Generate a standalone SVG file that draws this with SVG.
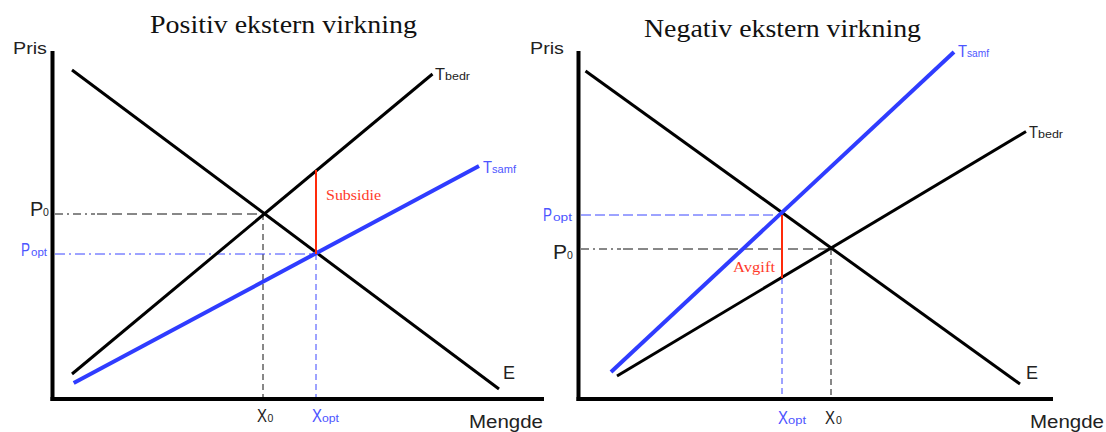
<svg xmlns="http://www.w3.org/2000/svg" width="1106" height="432" viewBox="0 0 1106 432">
<style>
.bg{fill:#fff}
.axis{stroke:#000;stroke-width:4;fill:none;stroke-linecap:square}
.blk{stroke:#000;stroke-width:3;fill:none}
.blu{stroke:#2f3cff;stroke-width:4;fill:none}
.red{stroke:#ff2a0a;stroke-width:2;fill:none}
.dk{stroke:#111;stroke-width:1;fill:none;stroke-dasharray:10,5}
.dkdot{stroke:#111;stroke-width:1;fill:none;stroke-dasharray:8,4,2,4}
.dkv{stroke:#111;stroke-width:1;fill:none;stroke-dasharray:6,4}
.db{stroke:#3a46ff;stroke-width:1;fill:none;stroke-dasharray:10,4}
.dbdot{stroke:#3a46ff;stroke-width:1;fill:none;stroke-dasharray:10,4,2,4}
.dbv{stroke:#3a46ff;stroke-width:1;fill:none;stroke-dasharray:6,4}
.title{font-family:"Liberation Serif","Times New Roman",serif;font-size:25.5px;fill:#111}
.sans{font-family:"Liberation Sans",Arial,sans-serif;fill:#222}
.sub{font-family:"Liberation Sans",Arial,sans-serif;font-size:10.5px}
.bt{fill:#4d55ff}
.rt{font-family:"Liberation Serif","Times New Roman",serif;font-size:14.5px;fill:#ff3a2a}
</style>
<rect class="bg" x="0" y="0" width="1106" height="432"/>

<g id="chart-positive">
  <text class="title" x="150" y="33" textLength="267" lengthAdjust="spacingAndGlyphs">Positiv ekstern virkning</text>
  <g id="axes-left">
    <line class="axis" x1="52.5" y1="53" x2="52.5" y2="399"/>
    <line class="axis" x1="52.5" y1="399" x2="542" y2="399"/>
    <text class="sans" x="13" y="54" font-size="16" textLength="34" lengthAdjust="spacingAndGlyphs">Pris</text>
    <text class="sans" x="469" y="428" font-size="18" textLength="74" lengthAdjust="spacingAndGlyphs">Mengde</text>
  </g>
  <g id="guides-left">
    <line class="dkdot" x1="55" y1="214" x2="95" y2="214"/>
    <line class="dk" x1="97" y1="214" x2="263" y2="214"/>
    <line class="dkv" x1="263" y1="214" x2="263" y2="397"/>
    <line class="dbdot" x1="55" y1="254" x2="316" y2="254"/>
    <line class="dbv" x1="316" y1="254" x2="316" y2="397"/>
  </g>
  <g id="curves-left">
    <line id="E-left" class="blk" x1="72" y1="70" x2="499" y2="389"/>
    <line id="Tbedr-left" class="blk" x1="72" y1="374" x2="432.5" y2="74"/>
    <line id="Tsamf-left" class="blu" x1="73.7" y1="383" x2="479" y2="166"/>
    <line id="subsidie" class="red" x1="316" y1="170" x2="316" y2="254"/>
  </g>
  <g id="labels-left">
    <text class="sans" x="30" y="216" font-size="20">P</text>
    <text class="sub" x="43" y="216" fill="#222">0</text>
    <text class="sans bt" x="21" y="256" font-size="18" textLength="9" lengthAdjust="spacingAndGlyphs">P</text>
    <text class="sub bt" x="31" y="256" textLength="16" lengthAdjust="spacingAndGlyphs">opt</text>
    <text class="sans" x="257" y="422" font-size="18" textLength="10" lengthAdjust="spacingAndGlyphs">X</text>
    <text class="sub" x="267.5" y="422" fill="#222">0</text>
    <text class="sans bt" x="312" y="422" font-size="18" textLength="10" lengthAdjust="spacingAndGlyphs">X</text>
    <text class="sub bt" x="322" y="422" textLength="17" lengthAdjust="spacingAndGlyphs">opt</text>
    <text class="sans" x="503" y="379" font-size="18">E</text>
    <text class="sans" x="435" y="80" font-size="17" textLength="10" lengthAdjust="spacingAndGlyphs">T</text>
    <text class="sub" x="445" y="80" fill="#222" textLength="25" lengthAdjust="spacingAndGlyphs">bedr</text>
    <text class="sans bt" x="483" y="173" font-size="17" textLength="9" lengthAdjust="spacingAndGlyphs">T</text>
    <text class="sub bt" x="492" y="173" textLength="24" lengthAdjust="spacingAndGlyphs">samf</text>
    <text class="rt" x="326" y="200" textLength="55" lengthAdjust="spacingAndGlyphs">Subsidie</text>
  </g>
</g>

<g id="chart-negative">
  <text class="title" x="644" y="37" textLength="277" lengthAdjust="spacingAndGlyphs">Negativ ekstern virkning</text>
  <g id="axes-right">
    <line class="axis" x1="578.5" y1="53" x2="578.5" y2="399"/>
    <line class="axis" x1="578.5" y1="399" x2="1051" y2="399"/>
    <text class="sans" x="530" y="54" font-size="16" textLength="34" lengthAdjust="spacingAndGlyphs">Pris</text>
    <text class="sans" x="1030" y="428" font-size="18" textLength="74" lengthAdjust="spacingAndGlyphs">Mengde</text>
  </g>
  <g id="guides-right">
    <line class="db" x1="581" y1="215" x2="782" y2="215"/>
    <line class="dbv" x1="782" y1="278" x2="782" y2="397"/>
    <line class="dkdot" x1="581" y1="249" x2="621" y2="249"/>
    <line class="dk" x1="623" y1="249" x2="831" y2="249"/>
    <line class="dkv" x1="831" y1="249" x2="831" y2="397"/>
  </g>
  <g id="curves-right">
    <line id="E-right" class="blk" x1="585.5" y1="71" x2="1020" y2="384"/>
    <line id="Tbedr-right" class="blk" x1="617" y1="376" x2="1026" y2="131.5"/>
    <line id="Tsamf-right" class="blu" x1="611" y1="372" x2="954" y2="52"/>
    <line id="avgift" class="red" x1="782" y1="215" x2="782" y2="278"/>
  </g>
  <g id="labels-right">
    <text class="sans bt" x="543" y="221" font-size="18" textLength="9" lengthAdjust="spacingAndGlyphs">P</text>
    <text class="sub bt" x="553" y="221" textLength="19" lengthAdjust="spacingAndGlyphs">opt</text>
    <text class="sans" x="553" y="259" font-size="21">P</text>
    <text class="sub" x="567" y="259" fill="#222">0</text>
    <text class="sans bt" x="778" y="424" font-size="18" textLength="10" lengthAdjust="spacingAndGlyphs">X</text>
    <text class="sub bt" x="788" y="424" textLength="18" lengthAdjust="spacingAndGlyphs">opt</text>
    <text class="sans" x="825" y="424" font-size="18" textLength="10" lengthAdjust="spacingAndGlyphs">X</text>
    <text class="sub" x="836" y="424" fill="#222">0</text>
    <text class="sans" x="1026" y="379" font-size="18">E</text>
    <text class="sans bt" x="958" y="57" font-size="17" textLength="9" lengthAdjust="spacingAndGlyphs">T</text>
    <text class="sub bt" x="967" y="57" textLength="22" lengthAdjust="spacingAndGlyphs">samf</text>
    <text class="sans" x="1029" y="138" font-size="17" textLength="9" lengthAdjust="spacingAndGlyphs">T</text>
    <text class="sub" x="1038" y="138" fill="#222" textLength="25" lengthAdjust="spacingAndGlyphs">bedr</text>
    <text class="rt" x="733" y="272" textLength="42" lengthAdjust="spacingAndGlyphs">Avgift</text>
  </g>
</g>
</svg>
